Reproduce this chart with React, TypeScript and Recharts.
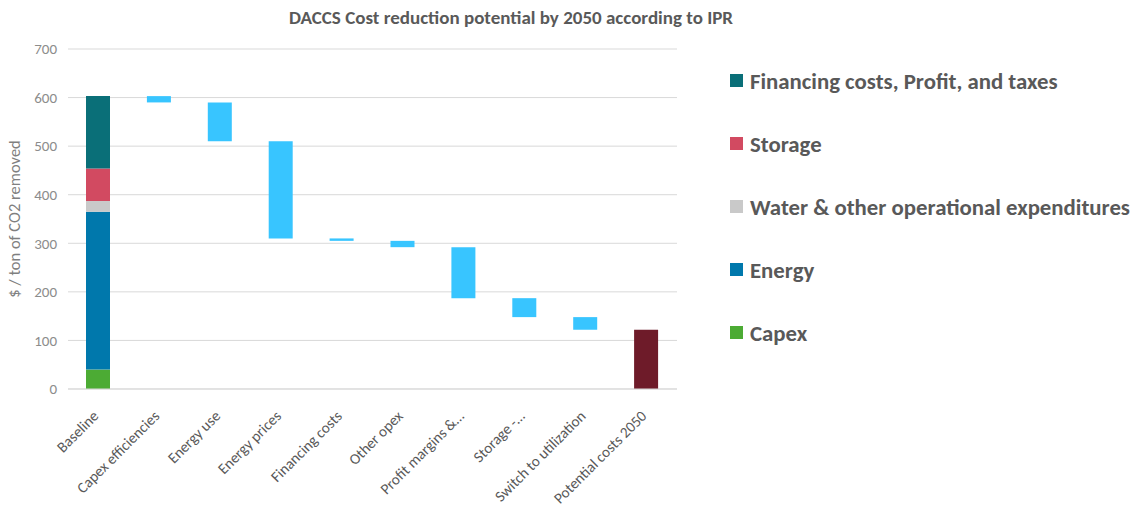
import React from "react";
import { BarChart, Bar, XAxis, YAxis, CartesianGrid, Label } from "recharts";

const categories = [
  "Baseline",
  "Capex efficiencies",
  "Energy use",
  "Energy prices",
  "Financing costs",
  "Other opex",
  "Profit margins &…",
  "Storage -…",
  "Switch to utilization",
  "Potential costs 2050",
];

// baseline cost split, $/t CO2
const baselineCapex = 40;
const baselineEnergy = 325;
const baselineWater = 22;
const baselineStorage = 67;
const baselineFinancing = 149;

// reductions per lever (Capex efficiencies .. Switch to utilization)
const reductions = [13, 80, 200, 5, 13, 105, 39, 26];
const potential2050 = 122;

const yTicks = [0, 100, 200, 300, 400, 500, 600, 700];

const legendItems = [
  { label: "Financing costs, Profit, and taxes", color: "#0A6F78" },
  { label: "Storage", color: "#D24A61" },
  { label: "Water & other operational expenditures", color: "#C9C9C9" },
  { label: "Energy", color: "#0078AC" },
  { label: "Capex", color: "#4CAB34" },
];

const baselineTotal =
  baselineCapex + baselineEnergy + baselineWater + baselineStorage + baselineFinancing;

let running = baselineTotal;
const data = categories.map((name, i) => {
  if (i === 0) {
    return {
      name,
      capex: baselineCapex,
      energy: baselineEnergy,
      water: baselineWater,
      storage: baselineStorage,
      financing: baselineFinancing,
    };
  }
  if (i === categories.length - 1) {
    return { name, total: potential2050 };
  }
  const drop = reductions[i - 1];
  running -= drop;
  return { name, base: running, drop };
});

const FONT = "Carlito, 'Open Sans', sans-serif";

const AngledTick = (props: any) => {
  const { x, y, payload } = props;
  const ax = x + 1;
  const ay = y + 20;
  return (
    <text
      x={ax}
      y={ay}
      transform={`rotate(-45 ${ax} ${ay})`}
      textAnchor="end"
      fontSize={15.2}
      fill="#595959"
      fontFamily={FONT}
    >
      {payload.value}
    </text>
  );
};

export default function App() {
  return (
    <div
      style={{
        position: "absolute",
        left: 0,
        top: 0,
        width: 1141,
        height: 515,
        background: "#fff",
        fontFamily: FONT,
      }}
    >
      <div
        style={{
          position: "absolute",
          left: 0,
          width: 1022,
          top: 5,
          textAlign: "center",
          fontSize: 19,
          fontWeight: 600,
          color: "#595959",
          lineHeight: "26px",
        }}
      >
        DACCS Cost reduction potential by 2050 according to IPR
      </div>

      <BarChart
        width={1141}
        height={515}
        data={data}
        margin={{ top: 49, right: 464, bottom: 16, left: 8 }}
        barSize={24}
      >
        <CartesianGrid vertical={false} stroke="#d9d9d9" />
        <XAxis
          dataKey="name"
          interval={0}
          height={110}
          tickLine={false}
          axisLine={{ stroke: "#d9d9d9" }}
          tick={<AngledTick />}
        />
        <YAxis
          width={60}
          domain={[0, 700]}
          ticks={yTicks}
          axisLine={false}
          tickLine={false}
          tickMargin={5}
          tick={{ fontSize: 15, fill: "#8c8c8c", fontFamily: FONT }}
        >
          <Label
            value="$ / ton of CO2 removed"
            angle={-90}
            position="insideLeft"
            offset={6}
            style={{ fontSize: 16.5, fill: "#7f7f7f", fontFamily: FONT, textAnchor: "middle" }}
          />
        </YAxis>
        <Bar dataKey="capex" stackId="a" fill="#4CAB34" isAnimationActive={false} />
        <Bar dataKey="energy" stackId="a" fill="#0078AC" isAnimationActive={false} />
        <Bar dataKey="water" stackId="a" fill="#C9C9C9" isAnimationActive={false} />
        <Bar dataKey="storage" stackId="a" fill="#D24A61" isAnimationActive={false} />
        <Bar dataKey="financing" stackId="a" fill="#0A6F78" isAnimationActive={false} />
        <Bar dataKey="base" stackId="a" fill="transparent" isAnimationActive={false} />
        <Bar dataKey="drop" stackId="a" fill="#38C5FF" isAnimationActive={false} />
        <Bar dataKey="total" stackId="a" fill="#6E1B29" isAnimationActive={false} />
      </BarChart>

      <div style={{ position: "absolute", left: 730, top: 49 }}>
        {legendItems.map((item) => (
          <div
            key={item.label}
            style={{ display: "flex", alignItems: "center", height: 63 }}
          >
            <div
              style={{ width: 13, height: 13, background: item.color, marginRight: 7 }}
            />
            <span
              style={{
                fontSize: 22.8,
                fontWeight: 600,
                color: "#595959",
                whiteSpace: "nowrap",
                lineHeight: "26px",
              }}
            >
              {item.label}
            </span>
          </div>
        ))}
      </div>
    </div>
  );
}
